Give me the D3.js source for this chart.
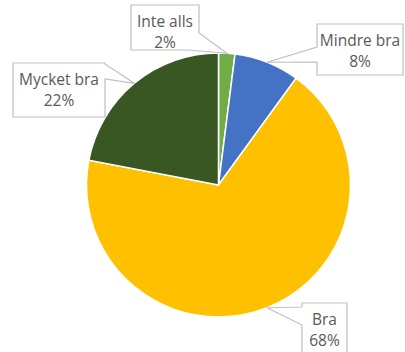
<!DOCTYPE html>
<html><head><meta charset="utf-8">
<script src="https://cdn.jsdelivr.net/npm/d3@7"></script>
<style>html,body{margin:0;padding:0;background:#fff;}svg{display:block;}</style>
</head><body>
<svg id="c" width="405" height="352"></svg>
<script>
const categories = ["Inte alls", "Mindre bra", "Bra", "Mycket bra"];
const values = [2, 8, 68, 22];
const labels = ["2%", "8%", "68%", "22%"];
const colors = ["#70AD47", "#4472C4", "#FFC000", "#385723"];

// layout of the callout boxes (x, y, w, h, wedge base on perimeter t1..t2)
const boxes = [
  {x:131, y:5,   w:68, h:45, t1:96,  t2:124},
  {x:317, y:24,  w:86, h:51, t1:236, t2:251},
  {x:302, y:303, w:45, h:56, t1:180, t2:198},
  {x:13,  y:63,  w:92, h:54, t1:93,  t2:108}
];

const svg = d3.select("#c");
const cx = 218.5, cy = 185, R = 132;
const pie = d3.pie().sort(null).value(d => d)(values);
const arc = d3.arc().innerRadius(0).outerRadius(R);
const g = svg.append("g").attr("transform", `translate(${cx},${cy})`);
g.selectAll("path").data(pie).join("path")
  .attr("d", arc)
  .attr("fill", (d,i) => colors[i])
  .attr("stroke", "#fff").attr("stroke-width", 1.5);

function perim(b, t) {
  const {x, y, w, h} = b;
  if (t <= w) return [x + t, y];
  if (t <= w + h) return [x + w, y + (t - w)];
  if (t <= 2*w + h) return [x + w - (t - w - h), y + h];
  return [x, y + h - (t - 2*w - h)];
}

pie.forEach((d, i) => {
  const b = boxes[i];
  const mid = (d.startAngle + d.endAngle) / 2;
  const tip = [cx + R * Math.sin(mid), cy - R * Math.cos(mid)];
  const corners = [0, b.w, b.w + b.h, 2*b.w + b.h];
  const pts = [];
  corners.forEach(t => { if (t < b.t1) pts.push(perim(b, t)); });
  pts.push(perim(b, b.t1)); pts.push(tip); pts.push(perim(b, b.t2));
  corners.forEach(t => { if (t > b.t2) pts.push(perim(b, t)); });
  svg.append("path")
    .attr("d", "M" + pts.map(p => p.join(",")).join("L") + "Z")
    .attr("fill", "#fff").attr("stroke", "#bfbfbf").attr("stroke-width", 1.2)
    .attr("stroke-linejoin", "miter");
  const t = svg.append("text")
    .attr("x", b.x + b.w / 2).attr("text-anchor", "middle")
    .attr("font-family", "'Open Sans', sans-serif").attr("font-size", 15.5)
    .attr("fill", "#595959");
  t.append("tspan").attr("x", b.x + b.w / 2).attr("y", b.y + 22).text(categories[i]);
  t.append("tspan").attr("x", b.x + b.w / 2).attr("y", b.y + 43).text(labels[i]);
});
</script>
</body></html>
